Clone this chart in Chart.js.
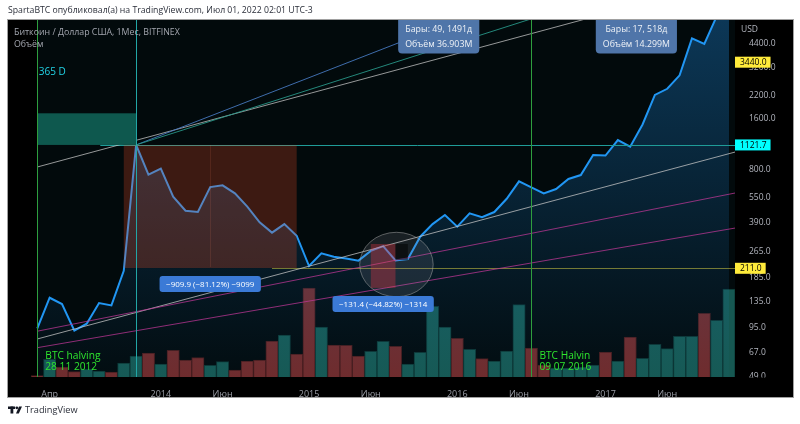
<!DOCTYPE html>
<html lang="ru">
<head>
<meta charset="utf-8">
<title>BTC / USD 1M</title>
<script src="https://cdn.jsdelivr.net/npm/chart.js@4.4.1/dist/chart.umd.min.js"></script>
<style>
  html, body { margin: 0; padding: 0; background: #fff; }
</style>
</head>
<body>
<canvas id="btc" width="800" height="424"></canvas>
<script>
// monthly BITFINEX BTC/USD, Mar 2013 .. Nov 2017
const months = [
  '2013-03','2013-04','2013-05','2013-06','2013-07','2013-08','2013-09','2013-10','2013-11','2013-12',
  '2014-01','2014-02','2014-03','2014-04','2014-05','2014-06','2014-07','2014-08','2014-09','2014-10','2014-11','2014-12',
  '2015-01','2015-02','2015-03','2015-04','2015-05','2015-06','2015-07','2015-08','2015-09','2015-10','2015-11','2015-12',
  '2016-01','2016-02','2016-03','2016-04','2016-05','2016-06','2016-07','2016-08','2016-09','2016-10','2016-11','2016-12',
  '2017-01','2017-02','2017-03','2017-04','2017-05','2017-06','2017-07','2017-08','2017-09','2017-10','2017-11'
];
const closes = [
  93.6, 141.6, 130, 90.6, 99.6, 131.8, 127.7, 204, 1121.7, 749,
  813, 556, 460, 452, 634, 649, 582, 486, 393, 342, 384, 328,
  217.6, 258.5, 247, 241, 234, 267, 285, 235, 239, 323.6, 384, 434,
  370.6, 444, 421, 452, 541, 685, 632, 582, 617, 707, 746, 980,
  972, 1199, 1095, 1480, 2210, 2400, 2880, 4750, 4400, 6400, 10000
];
// volume, thousands
const volumes = [
  45, 530, 300, 160, 240, 180, 150, 420, 630, 720,
  390, 800, 510, 580, 350, 460, 210, 480, 510, 1080, 1260, 690,
  2670, 1500, 960, 950, 630, 770, 1070, 920, 390, 740, 2120, 1500,
  1160, 830, 550, 480, 780, 2170, 870, 360, 270, 270, 300, 360,
  750, 480, 1200, 560, 980, 850, 1220, 1220, 1910, 1700, 2640
];
const xTickIdx = [1, 10, 15, 22, 27, 34, 39, 46, 51];
const xTickText = ['Апр', '2014', 'Июн', '2015', 'Июн', '2016', 'Июн', '2017', 'Июн'];
const yTicks = [4400, 3200, 2200, 1600, 800, 550, 390, 265, 185, 135, 95, 67, 49];

const halvings = [{i: 0, text: ['BTC halving', '28 11 2012']}, {i: 40, text: ['BTC Halvin', '09 07 2016']}];
const peakIdx = 8;
const drops = [{from: 7, to: 21, hi: 1121.7, lo: 211.8, mid: 14}, {from: 27, to: 29, hi: 293.2, lo: 161.8, mid: 28}];
const ranges = [
  {from: 8, to: 57, text: ['Бары: 49, 1491д', 'Объём 36.903M']},
  {from: 40, to: 57, text: ['Бары: 17, 518д', 'Объём 14.299M']}
];
const priceMarks = [{v: 3440, bg: '#ffeb3b'}, {v: 1121.7, bg: '#00ffff'}, {v: 211, bg: '#ffeb3b'}];
const trendLines = [
  {a: [0, 832], b: [44, 6070], color: 'rgba(200,200,200,0.75)'},
  {a: [0, 81], b: [56.5, 1019], color: 'rgba(200,200,200,0.75)'},
  {a: [8, 1121.7], b: [34, 6092], color: 'rgba(70,120,190,0.9)'},
  {a: [8, 1121.7], b: [39.7, 6092], color: 'rgba(40,150,135,0.9)'},
  {a: [0, 90], b: [56.5, 585], color: 'rgba(190,55,150,0.75)'},
  {a: [0, 72], b: [56.5, 364], color: 'rgba(190,55,150,0.75)'}
];

const FONT = "'Open Sans', 'Noto Sans', sans-serif";
const minus = s => s.replace(/-/g, '\u2212');

function line(ctx, x1, y1, x2, y2, color, w) {
  ctx.beginPath();
  ctx.moveTo(x1, y1);
  ctx.lineTo(x2, y2);
  ctx.strokeStyle = color;
  ctx.lineWidth = w || 1;
  ctx.stroke();
}
function rrect(ctx, x, y, w, h, r) {
  ctx.beginPath();
  if (ctx.roundRect) ctx.roundRect(x, y, w, h, r); else ctx.rect(x, y, w, h);
}

const drawings = {
  id: 'drawings',
  beforeDraw(chart) {
    const {ctx, chartArea: a, scales: {x, y}} = chart;
    ctx.save();
    ctx.fillStyle = '#fff';
    ctx.fillRect(0, 0, chart.width, chart.height);
    ctx.fillStyle = '#000';
    ctx.fillRect(a.left, a.top, y.right - a.left, x.bottom - a.top);
    ctx.strokeStyle = '#a0a0a0';
    ctx.strokeRect(a.left - 0.5, a.top - 0.5, y.right - a.left + 1, x.bottom - a.top + 1);
    const x0 = x.getPixelForValue(halvings[0].i);
    ctx.fillStyle = '#020a0c';
    ctx.fillRect(x0, a.top, a.right - x0, a.bottom - a.top);

    ctx.fillStyle = '#2a2e39';
    ctx.font = '8.7px ' + FONT;
    ctx.textBaseline = 'middle';
    ctx.fillText('SpartaBTC опубликовал(а) на TradingView.com, Июл 01, 2022 02:01 UTC-3', a.left, 11);
    ctx.restore();
  },
  afterDatasetsDraw(chart) {
    const {ctx, chartArea: a, scales: {x, y}} = chart;
    const X = i => x.getPixelForValue(i);
    const Y = v => y.getPixelForValue(v);
    const px = v => Math.round(v) + 0.5;
    ctx.save();
    ctx.beginPath();
    ctx.rect(a.left, a.top, a.right - a.left, a.bottom - a.top);
    ctx.clip();

    // horizontal levels
    line(ctx, X(5.1), px(Y(1121.7)), a.right, px(Y(1121.7)), '#1f9c98');
    line(ctx, X(19), px(Y(211)), a.right, px(Y(211)), 'rgba(230,220,70,0.5)');

    // trend lines (rays)
    trendLines.forEach(t => {
      const x1 = X(t.a[0]), y1 = Y(t.a[1]), x2 = X(t.b[0]), y2 = Y(t.b[1]);
      line(ctx, x1, y1, x1 + (x2 - x1) * 5, y1 + (y2 - y1) * 5, t.color);
    });

    // teal box left of the peak
    ctx.fillStyle = 'rgb(14,88,78)';
    ctx.fillRect(X(0), Y(1722), X(peakIdx) - X(0), Y(closes[peakIdx]) - Y(1722));

    // big drop box
    const d0 = drops[0];
    ctx.fillStyle = 'rgba(238,74,36,0.25)';
    ctx.fillRect(X(d0.from), Y(d0.hi), X(d0.to) - X(d0.from), Y(d0.lo) - Y(d0.hi));
    line(ctx, px(X(d0.mid)), Y(d0.hi), px(X(d0.mid)), Y(d0.lo) - 1, 'rgba(255,130,100,0.12)');

    // circle around second drop
    const c = {i0: 26.1, i1: 32.05, hi: 343.6, lo: 143.5};
    const cx = (X(c.i0) + X(c.i1)) / 2, cy = (Y(c.hi) + Y(c.lo)) / 2;
    ctx.beginPath();
    ctx.ellipse(cx, cy, (X(c.i1) - X(c.i0)) / 2, (Y(c.lo) - Y(c.hi)) / 2, 0, 0, Math.PI * 2);
    ctx.fillStyle = 'rgba(150,150,160,0.16)';
    ctx.fill();
    ctx.strokeStyle = 'rgba(170,170,170,0.5)';
    ctx.lineWidth = 1;
    ctx.stroke();

    const d1 = drops[1];
    ctx.fillStyle = 'rgba(242,54,69,0.32)';
    ctx.fillRect(X(d1.from), Y(d1.hi), X(d1.to) - X(d1.from), Y(d1.lo) - Y(d1.hi));
    ctx.fillStyle = 'rgba(0,0,0,0.5)';
    ctx.fillRect(X(d1.to), Y(d1.hi), X(d1.to + 1) - X(d1.to), Y(236) - Y(d1.hi));

    // vertical markers
    halvings.forEach(h => line(ctx, px(X(h.i)), a.top, px(X(h.i)), a.bottom, '#2e9e3e'));
    line(ctx, px(X(peakIdx)), a.top, px(X(peakIdx)), a.bottom, '#22a6a6');

    // drop labels
    ctx.font = '8px ' + FONT;
    ctx.textAlign = 'center';
    ctx.textBaseline = 'middle';
    drops.forEach(d => {
      const diff = d.lo - d.hi;
      const txt = minus(diff.toFixed(1) + ' (' + (diff / d.hi * 100).toFixed(2) + '%) ' + Math.round(diff * 10));
      const w = ctx.measureText(txt).width + 13;
      const top = Y(d.lo) + 8;
      ctx.fillStyle = '#3b7ad6';
      rrect(ctx, X(d.mid) - w / 2, top, w, 16, 3);
      ctx.fill();
      ctx.fillStyle = '#fff';
      ctx.fillText(txt, X(d.mid), top + 8.5);
    });

    // range labels at the top
    ctx.font = '8.8px ' + FONT;
    ranges.forEach(r => {
      const mx = X((r.from + r.to) / 2);
      const w = Math.max(...r.text.map(t => ctx.measureText(t).width)) + 14;
      ctx.fillStyle = '#4f75a9';
      rrect(ctx, mx - w / 2, a.top - 5, w, 38.5, 4);
      ctx.fill();
      ctx.fillStyle = '#eef2f7';
      ctx.fillText(r.text[0], mx, a.top + 9);
      ctx.fillText(r.text[1], mx, a.top + 24);
    });

    // text notes
    ctx.textAlign = 'left';
    ctx.font = '10px ' + FONT;
    ctx.fillStyle = '#22d3e6';
    ctx.fillText('365 D', X(0) + 1.5, Y(3010));
    ctx.font = '10.2px ' + FONT;
    ctx.fillStyle = '#2ee62e';
    halvings.forEach(h => {
      ctx.fillText(h.text[0], X(h.i) + 8, a.bottom - 20.5);
      ctx.fillText(h.text[1], X(h.i) + 8, a.bottom - 9.5);
    });

    // legend
    ctx.font = '8.8px ' + FONT;
    ctx.fillStyle = '#a3a6af';
    ctx.fillText('Биткоин / Доллар США, 1Мес, BITFINEX', a.left + 6, a.top + 12);
    ctx.fillText('Объём', a.left + 6, a.top + 24);
    ctx.restore();
  },
  afterDraw(chart) {
    const {ctx, chartArea: a, scales: {x, y}} = chart;
    ctx.save();
    // price axis corner below the plot
    ctx.fillStyle = '#000';
    ctx.fillRect(a.right + 1, a.bottom + 0.5, y.right - a.right - 1, x.bottom - a.bottom - 0.5);
    ctx.font = '8.5px ' + FONT;
    ctx.textBaseline = 'middle';
    ctx.fillStyle = '#b2b5be';
    ctx.fillText('USD', a.right + 6, a.top + 10);
    priceMarks.forEach(m => {
      const py = y.getPixelForValue(m.v);
      const txt = m.v.toFixed(1);
      const w = ctx.measureText(txt).width + 9;
      ctx.fillStyle = m.bg;
      ctx.fillRect(a.right, py - 5.5, w, 11);
      ctx.fillStyle = '#000';
      ctx.fillText(txt, a.right + 5, py + 0.5);
    });
    // footer
    const fy = x.bottom + 13;
    ctx.fillStyle = '#131722';
    ctx.fillRect(8, fy - 3.5, 7, 2.5);
    ctx.fillRect(10.5, fy - 3.5, 2.8, 7);
    ctx.beginPath();
    ctx.arc(16.8, fy - 2.2, 1.4, 0, Math.PI * 2);
    ctx.fill();
    ctx.beginPath();
    ctx.moveTo(19, fy - 3.5);
    ctx.lineTo(22, fy - 3.5);
    ctx.lineTo(18.8, fy + 3.5);
    ctx.lineTo(16, fy + 3.5);
    ctx.closePath();
    ctx.fill();
    ctx.font = '9.2px ' + FONT;
    ctx.fillStyle = '#2a2e39';
    ctx.fillText('TradingView', 25, fy);
    ctx.restore();
  }
};

const priceData = closes.map((v, i) => ({x: i, y: v}));
const volData = volumes.map((v, i) => ({x: i, y: v}));
const volColors = closes.map((v, i) => (i > 0 && v >= closes[i - 1]) ? 'rgb(22,88,82)' : 'rgb(112,42,42)');
const volBorders = closes.map((v, i) => (i > 0 && v >= closes[i - 1]) ? 'rgb(12,52,49)' : 'rgb(70,26,26)');

new Chart(document.getElementById('btc'), {
  data: {
    datasets: [{
      type: 'line',
      label: 'BTCUSD',
      data: priceData,
      yAxisID: 'y',
      order: 0,
      borderColor: '#2196f3',
      borderWidth: 2,
      pointRadius: 0,
      tension: 0,
      fill: 'start',
      backgroundColor: ctx => {
        const a = ctx.chart.chartArea;
        if (!a) return 'transparent';
        const g = ctx.chart.ctx.createLinearGradient(0, a.top, 0, a.bottom);
        g.addColorStop(0, 'rgba(33,150,243,0.32)');
        g.addColorStop(1, 'rgba(33,150,243,0.02)');
        return g;
      }
    }, {
      type: 'bar',
      label: 'Объём',
      data: volData,
      yAxisID: 'vol',
      order: 1,
      backgroundColor: volColors,
      borderColor: volBorders,
      borderWidth: 1,
      barPercentage: 1,
      categoryPercentage: 1
    }]
  },
  options: {
    responsive: false,
    animation: false,
    layout: {padding: {left: 8, top: 20, right: 7, bottom: 27}},
    scales: {
      x: {
        type: 'linear',
        offset: false,
        bounds: 'data',
        min: -2.372,
        max: 56.485,
        grid: {display: false, offset: false},
        border: {display: false},
        afterBuildTicks: s => { s.ticks = xTickIdx.map(v => ({value: v})); },
        afterFit: s => { s.height = 20; },
        ticks: {
          autoSkip: false,
          maxRotation: 0,
          padding: 4,
          color: '#9a9da6',
          font: {family: FONT, size: 9},
          callback: v => xTickText[xTickIdx.indexOf(v)]
        }
      },
      y: {
        type: 'logarithmic',
        position: 'right',
        bounds: 'data',
        min: 48.4,
        max: 6092,
        grid: {display: false},
        border: {display: false},
        afterBuildTicks: s => { s.ticks = yTicks.map(v => ({value: v})); },
        afterFit: s => { s.width = 58; },
        ticks: {
          padding: 6,
          color: '#b2b5be',
          font: {family: FONT, size: 8.5},
          callback: v => Number(v).toFixed(1)
        }
      },
      vol: {
        type: 'linear',
        display: false,
        min: 0,
        max: 10710
      }
    },
    plugins: {
      legend: {display: false},
      tooltip: {enabled: false}
    }
  },
  plugins: [drawings]
});
</script>
</body>
</html>
